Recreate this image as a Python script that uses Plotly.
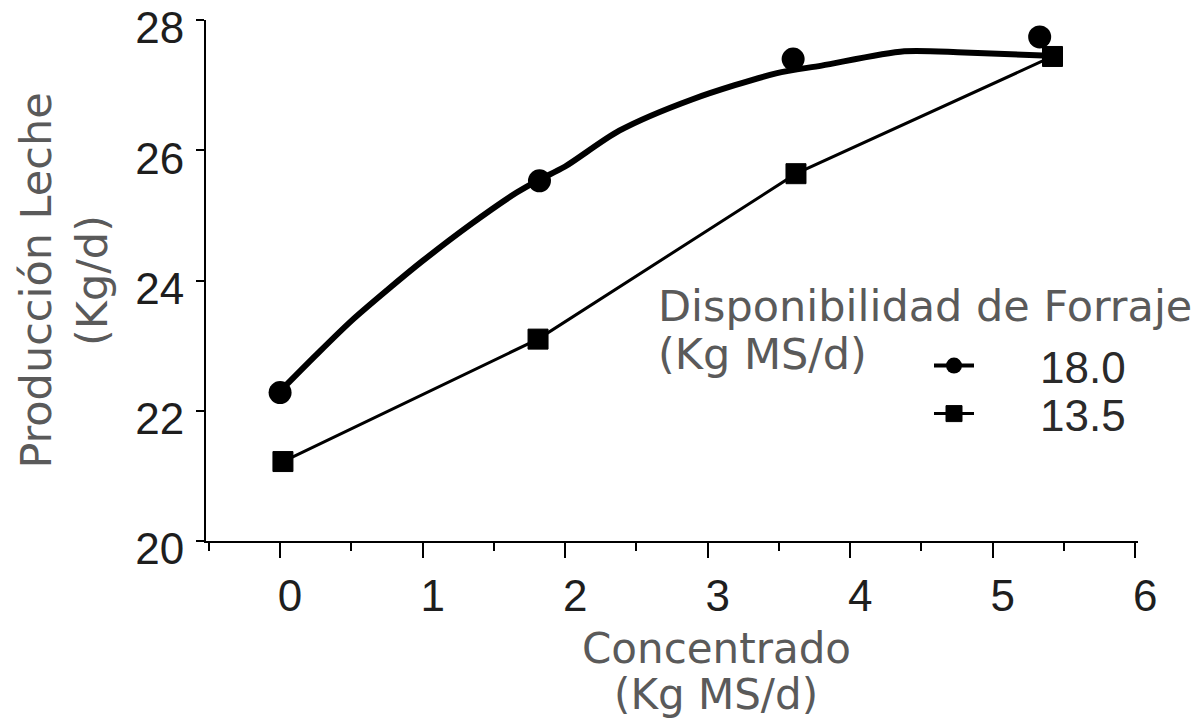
import plotly.graph_objects as go

# Observed means, forage availability 18.0 kg MS/d
x_180 = [0.0, 1.82, 3.6, 5.33]
y_180 = [22.28, 25.53, 27.4, 27.74]

# Fitted curve for 18.0
curve_x = [0.0, 0.25, 0.5, 0.75, 1.0, 1.33, 1.66, 1.82, 2.0, 2.38, 2.89, 3.48, 3.8, 4.38, 4.8, 5.4]
curve_y = [22.3, 22.85, 23.38, 23.85, 24.3, 24.85, 25.35, 25.55, 25.75, 26.3, 26.78, 27.18, 27.3, 27.52, 27.5, 27.45]

# Observed means, forage availability 13.5 kg MS/d
x_135 = [0.02, 1.81, 3.62, 5.42]
y_135 = [21.22, 23.1, 25.64, 27.44]

x_ticks = [0, 1, 2, 3, 4, 5, 6]
y_ticks = [20, 22, 24, 26, 28]

legend_labels = ["18.0", "13.5"]

FONT = "DejaVu Sans"
NUMF = "Liberation Sans"
TITLE_C = "#5a5a5a"
TICK_C = "#1e1e1e"

# interleave None so the legend shows a line but points stay unconnected
gx, gy = [], []
for a, b in zip(x_180, y_180):
    gx += [a, None]
    gy += [b, None]

fig = go.Figure()
fig.add_trace(go.Scatter(x=curve_x, y=curve_y, mode="lines",
                         line=dict(color="black", width=6, shape="spline", smoothing=0.8),
                         showlegend=False, hoverinfo="skip"))
fig.add_trace(go.Scatter(x=gx, y=gy, mode="lines+markers", connectgaps=False,
                         name="\u00a0\u00a0\u00a0\u00a0\u00a0" + legend_labels[0], legend="legend",
                         line=dict(color="black", width=4),
                         marker=dict(symbol="circle", size=23, color="black")))
fig.add_trace(go.Scatter(x=x_135, y=y_135, mode="lines+markers",
                         name="\u00a0\u00a0\u00a0\u00a0\u00a0" + legend_labels[1], legend="legend2",
                         line=dict(color="black", width=3),
                         marker=dict(symbol="square", size=20, color="black", line=dict(color="black", width=1))))

W, H = 1200, 723
L, R, T, B = 206, 1200 - 1138, 20, 723 - 541
pw, ph = W - L - R, H - T - B

def px_x(p):
    return (p - L) / pw

def px_y(p):
    return (H - B - p) / ph

leg_common = dict(xanchor="left", yanchor="middle",
                  font=dict(family=NUMF, size=44, color="#2a2a2a"),
                  bgcolor="rgba(0,0,0,0)", itemsizing="trace", itemwidth=40)

title_font = dict(family=FONT, size=43, color=TITLE_C)

fig.update_layout(
    width=W, height=H,
    margin=dict(l=L, r=R, t=T, b=B, pad=0, autoexpand=False),
    paper_bgcolor="white", plot_bgcolor="white",
    font=dict(family=FONT, size=43, color=TITLE_C),
    showlegend=True,
    legend=dict(x=px_x(929), y=px_y(366), **leg_common),
    legend2=dict(x=px_x(929), y=px_y(414), **leg_common),
    annotations=[
        dict(text="Disponibilidad de Forraje", x=px_x(656), y=px_y(306), xref="paper", yref="paper",
             xanchor="left", yanchor="middle", showarrow=False, font=title_font),
        dict(text="(Kg MS/d)", x=px_x(656), y=px_y(354), xref="paper", yref="paper",
             xanchor="left", yanchor="middle", showarrow=False, font=title_font),
        dict(text="Concentrado", x=px_x(716), y=px_y(648), xref="paper", yref="paper",
             xanchor="center", yanchor="middle", showarrow=False, font=dict(family=FONT, size=42, color=TITLE_C)),
        dict(text="(Kg MS/d)", x=px_x(716), y=px_y(694), xref="paper", yref="paper",
             xanchor="center", yanchor="middle", showarrow=False, font=dict(family=FONT, size=42, color=TITLE_C)),
    ],
)

fig.update_xaxes(
    range=[-0.52, 6.02], tickvals=x_ticks, ticktext=[str(v) for v in x_ticks], automargin=False,
    showgrid=False, zeroline=False, showline=True, linecolor="black", linewidth=2,
    ticks="outside", ticklen=15, tickwidth=2, tickcolor="black",
    tickfont=dict(family=NUMF, size=44, color=TICK_C), ticklabelshift=10, ticklabelstandoff=0,
    ticklabeloverflow="allow",
    minor=dict(dtick=0.5, tick0=0, ticks="outside", ticklen=8, tickwidth=2, tickcolor="black", showgrid=False),
)
fig.update_yaxes(
    range=[20, 28], tickvals=y_ticks, ticktext=[str(v) for v in y_ticks], automargin=False,
    showgrid=False, zeroline=False, showline=True, linecolor="black", linewidth=2,
    ticks="outside", ticklen=8, tickwidth=2, tickcolor="black",
    tickfont=dict(family=NUMF, size=44, color=TICK_C), ticklabelshift=8, ticklabelstandoff=3,
    ticklabeloverflow="allow",
    title=dict(text="Producción Leche<br>(Kg/d)", font=title_font, standoff=14),
)

# remove the default 8px body margin so the figure fills the window exactly
fig.write_html("out.html", config={"displayModeBar": False},
               post_script="document.body.style.margin='0px';")
